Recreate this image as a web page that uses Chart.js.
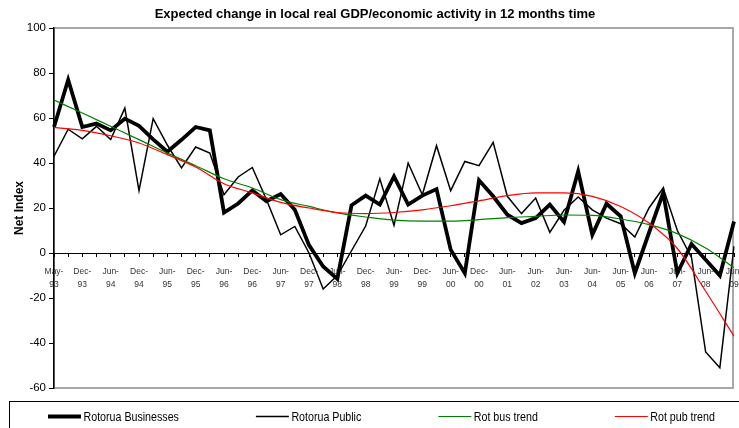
<!DOCTYPE html>
<html>
<head>
<meta charset="utf-8">
<script src="https://cdn.jsdelivr.net/npm/chart.js@4"></script>
<style>
  html, body { margin: 0; padding: 0; background: #fff; }
  #wrap { width: 739px; height: 428px; }
</style>
</head>
<body>
<div id="wrap"><canvas id="gdpChart"></canvas></div>
<script>
// ── Данные: категории (кварталы, потом полугодия) и ряды
const categories = [
  'May-93', 'Sep-93', 'Dec-93', 'Mar-94', 'Jun-94', 'Sep-94', 'Dec-94', 'Mar-95', 'Jun-95', 'Sep-95',
  'Dec-95', 'Mar-96', 'Jun-96', 'Sep-96', 'Dec-96', 'Mar-97', 'Jun-97', 'Sep-97', 'Dec-97', 'Mar-98',
  'Jun-98', 'Sep-98', 'Dec-98', 'Mar-99', 'Jun-99', 'Sep-99', 'Dec-99', 'Mar-00', 'Jun-00', 'Sep-00',
  'Dec-00', 'Mar-01', 'Jun-01', 'Dec-01', 'Jun-02', 'Dec-02', 'Jun-03', 'Dec-03', 'Jun-04', 'Dec-04',
  'Jun-05', 'Dec-05', 'Jun-06', 'Dec-06', 'Jun-07', 'Dec-07', 'Jun-08', 'Dec-08', 'Jun-09'
];

const rotoruaBusinesses = [
  56, 77, 56, 57.5, 54.5, 59.7, 56.5, 50.5, 45, 50.3,
  56, 54.5, 18, 22, 27.8, 23, 26.2, 19.2, 3.5, -6,
  -11.5, 21.2, 25.5, 21.5, 34, 21.5, 25.5, 28.4, 1.5, -9,
  32.3, 25.2, 17, 13.3, 15.5, 21.5, 13.8, 36.3, 8.1, 21.9,
  16.3, -9, 9, 26.7, -9, 4, -3, -10, 14
];

const rotoruaPublic = [
  43, 55, 50.7, 56.3, 50.4, 64.4, 27.7, 59.7, 48, 37.8,
  47.1, 44.4, 25.9, 33.8, 38, 23.7, 8.1, 11.8, 0, -16,
  -10, 1, 12, 33, 12.3, 40, 25.9, 47.7, 27.7, 40.7,
  38.8, 49.2, 25.2, 17.5, 24.4, 9.2, 19, 24.9, 19.2, 15.5,
  13, 7.1, 20, 28.9, 10, -2, -44, -51, 3
];

// трендовые кривые считаны через одну категорию
const rotBusTrend = [
  68, null, 62.2, null, 56.3, null, 50.4, null, 44.4, null,
  38.8, null, 33, null, 28.9, null, 23.7, null, 20.7, null,
  17.8, null, 16, null, 14.6, null, 14.2, null, 14.2, null,
  14.8, null, 15.7, null, 16.3, null, 16.9, null, 16.7, null,
  15.1, null, 12.6, null, 8.6, null, 2.2, null, -6.5
];

const rotPubTrend = [
  55.8, null, 54.5, null, 52.1, null, 48.9, null, 43.7, null,
  38.2, null, 30.8, null, 26.7, null, 22.5, null, 20, null,
  18, null, 17.5, null, 18, null, 19.2, null, 21, null,
  23.2, null, 25.5, null, 26.7, null, 26.7, null, 25.2, null,
  20.7, null, 13.3, null, 2, null, -17, null, -37
];

const yTicks = { min: -60, max: 100, step: 20 };

const SANS = "'Liberation Sans', Arial, sans-serif";

// ── Рамка области построения (серая, как в Excel)
const plotFrame = {
    id: 'plotFrame',
    beforeDraw(chart) {
        const { ctx, chartArea: a } = chart;
        ctx.save();
        ctx.strokeStyle = '#8c8c8c';
        ctx.lineWidth   = 1.5;
        ctx.strokeRect(a.left, a.top, a.right - 1 - a.left, a.bottom - a.top);
        ctx.restore();
    }
};

// ── Легенда в рамке внизу (узкий шрифт имитируем сжатием по x)
const boxLegend = {
    id: 'boxLegend',
    afterDraw(chart, args, opts) {
        const { ctx } = chart;
        ctx.save();
        ctx.strokeStyle = '#000';
        ctx.lineWidth   = 1;
        ctx.strokeRect(opts.left + 0.5, opts.top + 0.5, chart.width, 60);
        ctx.font         = opts.font;
        ctx.textBaseline = 'middle';
        ctx.textAlign    = 'left';
        let x = opts.startX;
        chart.data.datasets.forEach(ds => {
            ctx.strokeStyle = ds.borderColor;
            ctx.lineWidth   = ds.borderWidth;
            ctx.beginPath();
            ctx.moveTo(x, opts.y);
            ctx.lineTo(x + opts.sample, opts.y);
            ctx.stroke();
            x += opts.sample + opts.textGap;
            ctx.save();
            ctx.translate(x, opts.y + 0.5);
            ctx.scale(opts.squeeze, 1);
            ctx.fillStyle = '#000';
            ctx.fillText(ds.label, 0, 0);
            ctx.restore();
            x += ctx.measureText(ds.label).width * opts.squeeze + opts.itemGap;
        });
        ctx.restore();
    }
};

function lineSet(label, data, color, width, order, smooth) {
    return {
        label, data, order,
        borderColor:     color,
        backgroundColor: color,
        borderWidth:     width,
        pointRadius:     0,
        tension:         0,
        spanGaps:        smooth,
        cubicInterpolationMode: smooth ? 'monotone' : 'default',
        borderJoinStyle: 'miter'
    };
}

new Chart(document.getElementById('gdpChart'), {
    type: 'line',
    data: {
        labels: categories,
        datasets: [
            lineSet('Rotorua Businesses', rotoruaBusinesses, '#000000', 3.8, 4, false),
            lineSet('Rotorua Public',     rotoruaPublic,     '#000000', 1.5, 3, false),
            lineSet('Rot bus trend',      rotBusTrend,       '#008000', 1.2, 2, true),
            lineSet('Rot pub trend',      rotPubTrend,       '#ff0000', 1.2, 1, true)
        ]
    },
    options: {
        responsive:          true,
        maintainAspectRatio: false,
        animation:           false,
        layout: { padding: { top: 0, right: 5, bottom: 40, left: 16 } },
        plugins: {
            legend:  { display: false },
            tooltip: { enabled: false },
            title: {
                display: true,
                text:    'Expected change in local real GDP/economic activity in 12 months time',
                color:   '#000',
                font:    { family: SANS, size: 13, weight: 'bold' },
                padding: { top: 6.2, bottom: 6.2 }
            },
            boxLegend: {
                left: 9, top: 401, y: 416.5,
                startX: 48, sample: 33, textGap: 2.5, itemGap: 77,
                squeeze: 0.82,
                font: '13px ' + SANS
            }
        },
        scales: {
            x: {
                position: { y: 0 },
                afterFit: (s) => { s.paddingLeft = 0; s.paddingRight = 0; },
                grid:   { drawOnChartArea: false, color: '#000', tickLength: 3, lineWidth: 1 },
                border: { color: '#000', width: 1 },
                ticks: {
                    autoSkip:    false,
                    maxRotation: 0,
                    minRotation: 0,
                    padding:     9,
                    color:       '#333',
                    font:        { family: SANS, size: 8.5, lineHeight: 1.56 },
                    callback: (v, i) => {
                        if (i % 2) return '';
                        const [m, y] = categories[i].split('-');
                        return [m + '-', y];
                    }
                }
            },
            y: {
                min: yTicks.min,
                max: yTicks.max,
                afterFit: (s) => { s.width = 38; },
                grid:   { drawOnChartArea: false, color: '#000', tickLength: 5 },
                border: { color: '#000', width: 1.5 },
                ticks: {
                    stepSize: yTicks.step,
                    padding:  3,
                    color:    '#000',
                    font:     { family: SANS, size: 11.5 }
                },
                title: {
                    display: true,
                    text:    'Net Index',
                    color:   '#000',
                    font:    { family: SANS, size: 12, weight: 'bold', lineHeight: 0.6 },
                    padding: { top: 0, bottom: 0 }
                }
            }
        }
    },
    plugins: [plotFrame, boxLegend]
});
</script>
</body>
</html>
